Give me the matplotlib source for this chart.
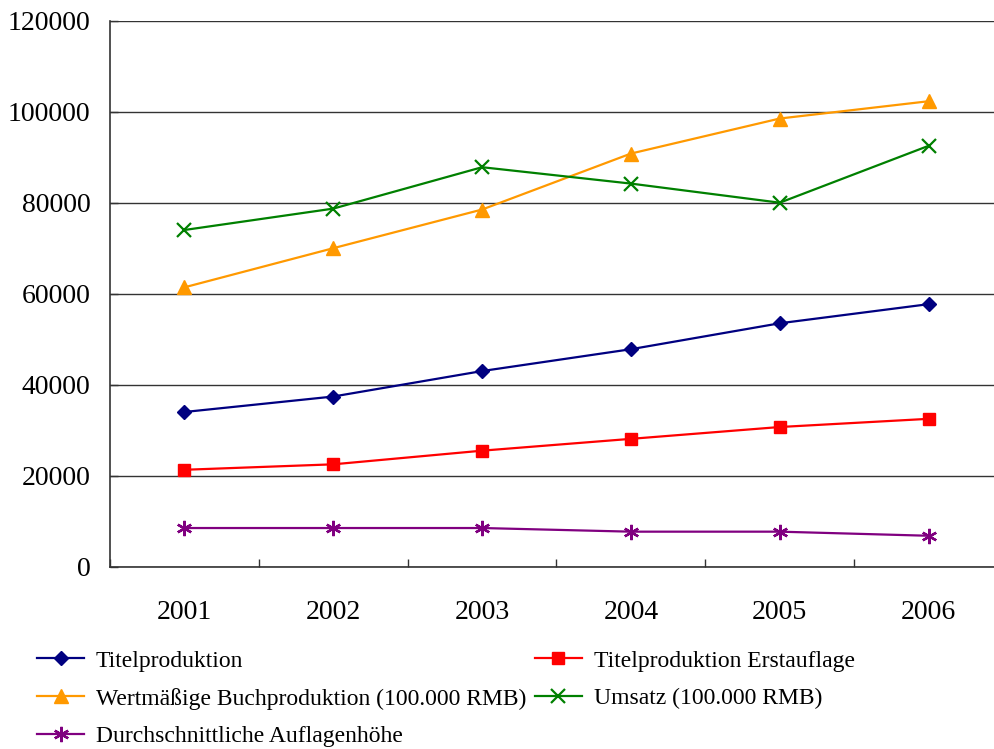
import matplotlib
matplotlib.use("Agg")
import matplotlib.pyplot as plt
from matplotlib.ticker import FixedLocator, NullFormatter

plt.rcParams['font.family'] = ['Liberation Serif', 'DejaVu Serif']

years = ['2001', '2002', '2003', '2004', '2005', '2006']
titelproduktion = [34000, 37400, 43000, 47800, 53500, 57700]
erstauflage = [21300, 22500, 25500, 28100, 30700, 32500]
wertmaessig = [61400, 70000, 78500, 90800, 98500, 102300]
umsatz = [74000, 78700, 87800, 84200, 80000, 92500]
auflagenhoehe = [8500, 8500, 8500, 7700, 7700, 6800]

labels = ['Titelproduktion', 'Titelproduktion Erstauflage',
          'Wertmäßige Buchproduktion (100.000 RMB)', 'Umsatz (100.000 RMB)',
          'Durchschnittliche Auflagenhöhe']
y_ticks = [0, 20000, 40000, 60000, 80000, 100000, 120000]

fig = plt.figure(figsize=(9.95, 7.49), dpi=100)
ax = fig.add_axes([110 / 995, 1 - 566.7 / 749, (1003 - 110) / 995, (566.7 - 20.7) / 749])

x = list(range(len(years)))
lw = 1.6
h1, = ax.plot(x, titelproduktion, color='#000080', lw=lw, marker='D', ms=6.8,
              label=labels[0], zorder=3)
h2, = ax.plot(x, erstauflage, color='#FF0000', lw=lw, marker='s', ms=8.4,
              label=labels[1], zorder=3)
h3, = ax.plot(x, wertmaessig, color='#FF9900', lw=lw, marker='^', ms=10,
              label=labels[2], zorder=3)
h4, = ax.plot(x, umsatz, color='#008000', lw=lw, marker='x', ms=9.5, mew=1.6,
              label=labels[3], zorder=3)
h5, = ax.plot(x, auflagenhoehe, color='#800080', lw=lw, marker=(6, 2, 0), ms=11,
              mew=1.7, label=labels[4], zorder=3)

ax.set_xlim(-0.5, len(years) - 0.5)
ax.set_ylim(0, 120000)

ax.set_yticks(y_ticks)
ax.set_yticklabels([str(v) for v in y_ticks])
ax.yaxis.grid(True, color='#333333', lw=1.0)
ax.set_axisbelow(True)

ax.set_xticks(x)
ax.set_xticklabels(years)
ax.xaxis.set_minor_locator(FixedLocator([i + 0.5 for i in range(-1, len(years))]))
ax.xaxis.set_minor_formatter(NullFormatter())
ax.tick_params(axis='x', which='major', length=0, pad=24, labelsize=20)
ax.tick_params(axis='x', which='minor', direction='in', length=6, width=1.0, color='#333333')
ax.tick_params(axis='y', which='major', direction='in', length=6, width=1.0,
               pad=14, labelsize=20, color='#333333')

for side in ('top', 'right'):
    ax.spines[side].set_visible(False)
for side in ('left', 'bottom'):
    ax.spines[side].set_color('#333333')
    ax.spines[side].set_linewidth(1.2)

fig.legend([h1, h3, h5, h2, h4],
           [labels[0], labels[2], labels[4], labels[1], labels[3]],
           ncol=2, loc='upper left', bbox_to_anchor=(37 / 995, 1 - 650 / 749),
           frameon=False, fontsize=17, handlelength=2.0, handletextpad=0.5,
           columnspacing=0.35, labelspacing=0.68, borderpad=0, borderaxespad=0)

fig.savefig('out.png', dpi=100)
